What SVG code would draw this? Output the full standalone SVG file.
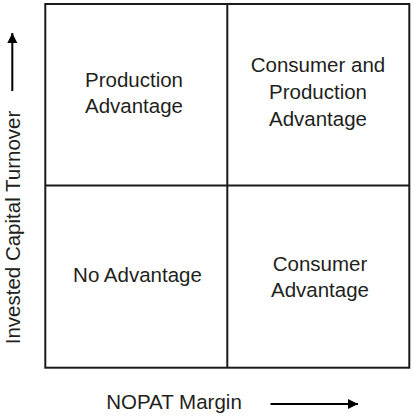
<svg xmlns="http://www.w3.org/2000/svg" width="416" height="418" viewBox="0 0 416 418">
<style>
.grid{fill:none;stroke:#1a1a1a;stroke-width:2}
.ax{stroke:#000;stroke-width:2;fill:none}
.t{font-family:"Liberation Sans",Arial,sans-serif;font-size:20.5px;fill:#231f20;text-anchor:middle}
</style>
<defs>
<marker id="ah" viewBox="0 0 10 10" refX="10" refY="5" markerWidth="10" markerHeight="11" markerUnits="userSpaceOnUse" orient="auto">
<path d="M0,0 L10,5 L0,10 Z" fill="#000"/>
</marker>
</defs>
<g id="connectors">
<line class="ax" x1="12.3" y1="91" x2="12.3" y2="33" marker-end="url(#ah)"/>
<line class="ax" x1="270.5" y1="404" x2="358" y2="404" marker-end="url(#ah)"/>
</g>
<g id="grid">
<rect class="grid" x="45.3" y="4" width="364" height="363.7"/>
<line class="grid" x1="227.3" y1="4" x2="227.3" y2="367.7"/>
<line class="grid" x1="45.3" y1="185.5" x2="409.3" y2="185.5"/>
</g>
<g id="q-production">
<text class="t" x="134" y="86.7">Production</text>
<text class="t" x="134" y="112.7">Advantage</text>
</g>
<g id="q-consumer-production">
<text class="t" x="318" y="72">Consumer and</text>
<text class="t" x="318" y="99">Production</text>
<text class="t" x="318" y="125.5">Advantage</text>
</g>
<g id="q-none">
<text class="t" x="137.5" y="282.3">No Advantage</text>
</g>
<g id="q-consumer">
<text class="t" x="320" y="270.7">Consumer</text>
<text class="t" x="320" y="296.7">Advantage</text>
</g>
<g id="axis-x">
<text class="t" x="174" y="409">NOPAT Margin</text>
</g>
<g id="axis-y">
<text class="t" transform="translate(19.5,227.5) rotate(-90)">Invested Capital Turnover</text>
</g>
</svg>
